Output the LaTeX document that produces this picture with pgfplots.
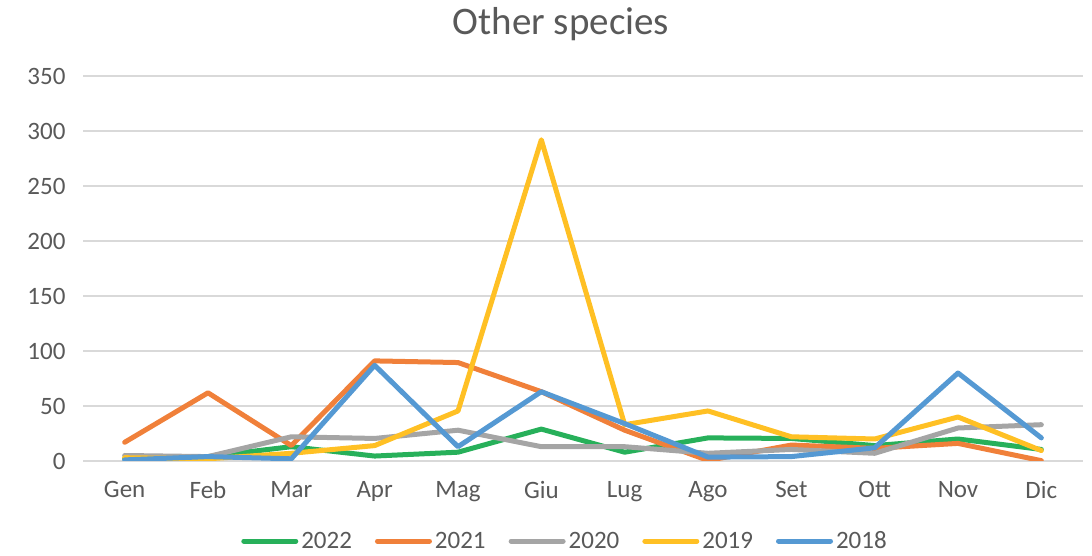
\documentclass[border=0pt]{standalone}
\usepackage{pgfplots}
\pgfplotsset{compat=1.18}
\usepackage{fontspec}
\setmainfont{Carlito}
\definecolor{cgreen}{HTML}{27B05A}
\definecolor{corange}{HTML}{F0803A}
\definecolor{cgray}{HTML}{A5A5A5}
\definecolor{cyellow}{HTML}{FFC024}
\definecolor{cblue}{HTML}{5599D3}
\definecolor{ctext}{HTML}{595959}
\definecolor{cgrid}{HTML}{D9D9D9}
\begin{document}
\begin{tikzpicture}[x=1pt,y=1pt]
\useasboundingbox (0,0) rectangle (1092,556);
\node[text=ctext,font=\fontsize{39}{41}\selectfont] at (561,532) {Other species};
\begin{axis}[
  at={(83pt,95pt)}, anchor=south west,
  scale only axis, width=1000pt, height=385pt,
  xmin=-0.5, xmax=11.5, ymin=0, ymax=350,
  xtick={0,...,11},
  xticklabels={Gen,Feb,Mar,Apr,Mag,Giu,Lug,Ago,Set,Ott,Nov,Dic},
  ytick={0,50,...,350},
  axis line style={draw=none},
  major tick length=0pt,
  ymajorgrids, grid style={cgrid,line width=1.5pt},
  tick label style={text=ctext,font=\fontsize{25}{27}\selectfont},
  /pgf/number format/assume math mode=true,
  xticklabel style={yshift=-17pt},
  yticklabel style={xshift=-14pt},
  every axis plot/.append style={line width=5pt, line cap=round, line join=round},
  legend columns=5,
  legend style={draw=none, fill=none, at={(0.482,-0.208)}, anchor=center,
    font=\fontsize{25}{27}\selectfont, text=ctext,
    inner sep=0pt,
    /tikz/every odd column/.append style={column sep=1pt},
    /tikz/every even column/.append style={column sep=21pt}},
  legend image code/.code={\draw[#1,line width=5pt,line cap=round] (0pt,0pt) -- (52pt,0pt);},
]
\addplot[cgreen] coordinates {(0,2)(1,4)(2,13)(3,4.5)(4,8)(5,29)(6,8)(7,21)(8,20.5)(9,14)(10,20)(11,10.5)};
\addlegendentry{2022}
\addplot[corange] coordinates {(0,17)(1,62)(2,14)(3,91)(4,89.5)(5,63)(6,28)(7,0.5)(8,14.5)(9,11.5)(10,16)(11,0.3)};
\addlegendentry{2021}
\addplot[cgray] coordinates {(0,5)(1,4)(2,22)(3,20.5)(4,28)(5,13)(6,13)(7,7)(8,10.5)(9,7)(10,30)(11,33)};
\addlegendentry{2020}
\addplot[cyellow] coordinates {(0,3)(1,2)(2,7)(3,14)(4,45.5)(5,292)(6,33)(7,45.5)(8,22)(9,20)(10,40)(11,9.5)};
\addlegendentry{2019}
\addplot[cblue] coordinates {(0,1)(1,4)(2,2)(3,87)(4,13)(5,63)(6,34)(7,3.5)(8,4)(9,12)(10,80)(11,21)};
\addlegendentry{2018}
\end{axis}
\end{tikzpicture}
\end{document}
